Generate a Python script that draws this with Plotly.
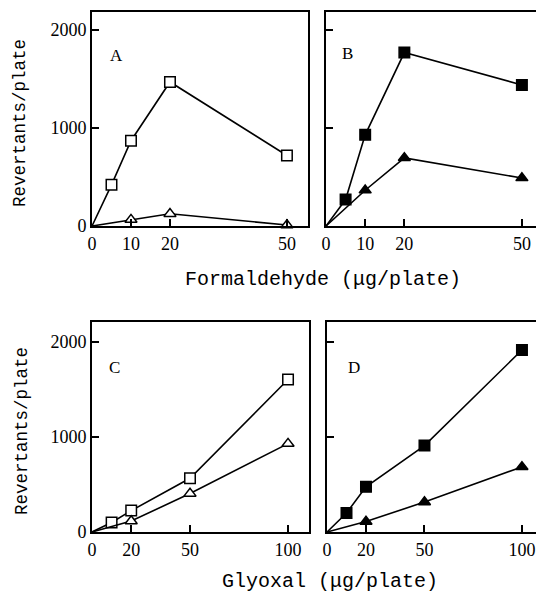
import plotly.graph_objects as go

# ---- data ----
form_x_sq = [0, 5, 10, 20, 50]
form_x_tri = [0, 10, 20, 50]
a_sq = [0, 420, 870, 1470, 720]
a_tri = [0, 65, 125, 10]
b_sq = [0, 270, 930, 1770, 1440]
b_tri = [0, 365, 695, 490]

gly_x_sq = [0, 10, 20, 50, 100]
gly_x_tri = [0, 20, 50, 100]
c_sq = [0, 100, 225, 565, 1605]
c_tri = [0, 115, 405, 930]
d_sq = [0, 200, 475, 910, 1915]
d_tri = [0, 110, 315, 685]

form_ticks = [0, 10, 20, 50]
gly_ticks = [0, 20, 50, 100]
y_ticks = [0, 1000, 2000]
panel_labels = ["A", "B", "C", "D"]

W, H = 536, 594
def fx(px):
    return px / W
def fy(px):
    return 1 - px / H

MONO = "Liberation Mono, Courier New, monospace"
SERIF = "Liberation Serif, Times New Roman, serif"

fig = go.Figure()

def add_series(x, y, symbol, filled, xa, ya):
    sizes = [0] + [10.5] * (len(x) - 1)
    fig.add_trace(go.Scatter(
        x=x, y=y, mode="lines+markers", xaxis=xa, yaxis=ya,
        line=dict(color="black", width=1.6),
        marker=dict(symbol=symbol, size=sizes, opacity=1,
                    color="black" if filled else "white",
                    line=dict(color="black", width=1.5)),
        showlegend=False, cliponaxis=False, hoverinfo="skip"))

add_series(form_x_sq, a_sq, "square", False, "x", "y")
add_series(form_x_tri, a_tri, "triangle-up", False, "x", "y")
add_series(form_x_sq, b_sq, "square", True, "x2", "y2")
add_series(form_x_tri, b_tri, "triangle-up", True, "x2", "y2")
add_series(gly_x_sq, c_sq, "square", False, "x3", "y3")
add_series(gly_x_tri, c_tri, "triangle-up", False, "x3", "y3")
add_series(gly_x_sq, d_sq, "square", True, "x4", "y4")
add_series(gly_x_tri, d_tri, "triangle-up", True, "x4", "y4")

common_x = dict(showline=True, linecolor="black", linewidth=2, mirror=True,
                ticks="inside", ticklen=7, tickwidth=1.5, tickcolor="black",
                showgrid=False, zeroline=False, automargin=False,
                tickfont=dict(family=SERIF, size=18, color="black"))
common_y = dict(showline=True, linecolor="black", linewidth=2,
                ticks="inside", ticklen=7, tickwidth=1.5, tickcolor="black",
                showgrid=False, zeroline=False, automargin=False,
                tickvals=y_ticks,
                tickfont=dict(family=SERIF, size=18, color="black"))

fig.update_layout(
    width=W, height=H,
    margin=dict(l=0, r=0, t=0, b=0),
    paper_bgcolor="white", plot_bgcolor="white",
    xaxis=dict(common_x, domain=[fx(92), fx(308)], range=[0, 55.4], tickvals=form_ticks, anchor="y"),
    yaxis=dict(common_y, domain=[fy(226), fy(12)], range=[0, 2184], mirror=True, anchor="x"),
    xaxis2=dict(common_x, domain=[fx(326), fx(536)], range=[0, 53.6], tickvals=form_ticks, anchor="y2"),
    yaxis2=dict(common_y, domain=[fy(226), fy(12)], range=[0, 2184], mirror=False,
                showticklabels=False, anchor="x2"),
    xaxis3=dict(common_x, domain=[fx(92), fx(309)], range=[0, 110.7], tickvals=gly_ticks, anchor="y3"),
    yaxis3=dict(common_y, domain=[fy(532), fy(322)], range=[0, 2210], mirror=True, anchor="x3"),
    xaxis4=dict(common_x, domain=[fx(327), fx(536)], range=[0, 107.2], tickvals=gly_ticks, anchor="y4"),
    yaxis4=dict(common_y, domain=[fy(532), fy(322)], range=[0, 2210], mirror=False,
                showticklabels=False, anchor="x4"),
)

# panel letters
letter_pos = [("x", "y", 6.2, 1745), ("x2", "y2", 5.6, 1765),
              ("x3", "y3", 11.7, 1733), ("x4", "y4", 13.8, 1733)]
for lab, (xa, ya, xv, yv) in zip(panel_labels, letter_pos):
    fig.add_annotation(x=xv, y=yv, xref=xa, yref=ya, text=lab, showarrow=False,
                       xanchor="center", yanchor="middle",
                       font=dict(family=SERIF, size=17, color="black"))

# axis titles
def title(text, px, py, size, angle=0):
    fig.add_annotation(x=fx(px), y=fy(py), xref="paper", yref="paper",
                       text=text, showarrow=False, textangle=angle,
                       xanchor="center", yanchor="middle",
                       font=dict(family=MONO, size=size, color="black"))

title("Formaldehyde (μg/plate)", 323, 279, 20)
title("Glyoxal (μg/plate)", 330, 581, 20)
title("Revertants/plate", 20, 123, 17.5, -90)
title("Revertants/plate", 22, 431, 17.5, -90)

fig.write_html("out.html",
               config={"displayModeBar": False},
               post_script="document.body.style.margin='0';document.body.style.overflow='hidden';")
